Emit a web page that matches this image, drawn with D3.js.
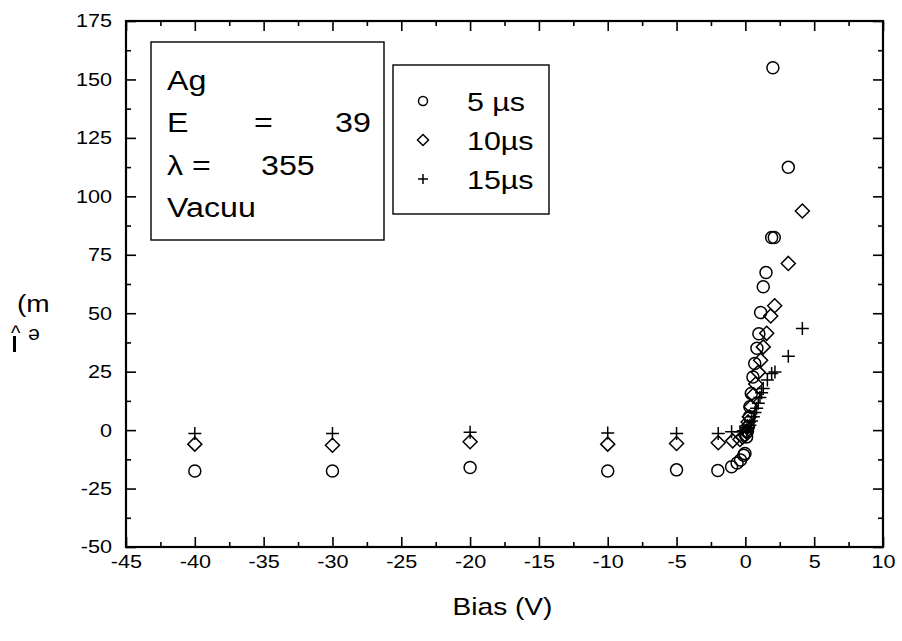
<!DOCTYPE html>
<html><head><meta charset="utf-8">
<script src="https://cdn.jsdelivr.net/npm/d3@7"></script>
<style>
body{margin:0;background:#fff}
text{font-family:"Liberation Sans",Arial,Helvetica,sans-serif;fill:#000}
</style></head>
<body><svg id="c" width="902" height="641"></svg>
<script>
// ---- data ----
const xTicks = [-45,-40,-35,-30,-25,-20,-15,-10,-5,0,5,10];
const yTicks = [-50,-25,0,25,50,75,100,125,150,175];
const seriesNames = ["5 µs","10µs","15µs"];
const s5x  = [-40,-30,-20,-10,-5,-2,-1.0,-0.6,-0.35,-0.12,-0.03,0.09,0.15,0.21,0.29,0.33,0.43,0.55,0.68,0.84,0.98,1.11,1.3,1.5,1.91,2.1,3.12,2.0];
const s5y  = [-17.5,-17.5,-16,-17.5,-17,-17.3,-15.7,-14.1,-12.8,-10.7,-10,-2.9,-0.5,1.4,5.7,10,15.7,22.7,28.5,35,41.2,50.3,61.3,67.4,82.4,82.4,112.4,155];
const s10x = [-40,-30,-20,-10,-5,-1.97,-0.92,-0.39,-0.2,0,0.07,0.14,0.2,0.29,0.41,0.58,0.75,0.94,1.11,1.3,1.55,1.84,2.13,3.12,4.14];
const s10y = [-6,-6.5,-5,-6,-5.7,-5.4,-4.6,-4,-3,-2.1,-0.5,1.4,3.5,5.7,10,15,19.7,24.7,29.9,35.6,41.4,48.8,53.2,71.3,93.7];
const s15x = [-40,-30,-20,-10,-5,-1.97,-1,-0.39,-0.15,0.09,0.2,0.33,0.45,0.58,0.7,0.82,0.94,1.06,1.18,1.3,1.6,1.91,2.15,3.12,4.14];
const s15y = [-1.4,-1.4,-0.9,-1.2,-1.4,-1.4,-0.7,-0.7,-0.3,0,1,2.1,3.9,5.7,7.5,9.3,11.5,14,16,17.8,21.4,24.2,24.9,31.6,43.5];
const infoLines = ["Ag","E","λ =","Vacuu"];

// ---- layout ----
const L=126,R=883,T=21,B=547;
const SX=1.17; // horizontal stretch of the original lettering
const svg=d3.select("#c");
const x=d3.scaleLinear().domain([-45,10]).range([L,R]);
const y=d3.scaleLinear().domain([-50,175]).range([B,T]);
const xMinor=d3.range(-42.5,10,5), yMinor=d3.range(-37.5,175,25);

function ax(gen,vals,size,labels,tr,pad){
  const g=svg.append("g").attr("transform",tr)
    .call(gen.tickValues(vals).tickSize(size).tickPadding(pad||8).tickFormat(labels?(d=>d):""));
  g.select(".domain").remove();
  g.selectAll("line").attr("stroke","#000").attr("stroke-width",1.6);
  g.selectAll("text").style("font-size","18.5px").attr("fill","#000");
  return g;
}
const gx=ax(d3.axisBottom(x),xTicks,-10,true,`translate(0,${B})`,8);
gx.selectAll("text").attr("transform",`scale(${SX},1)`);
ax(d3.axisBottom(x),xMinor,-5,false,`translate(0,${B})`);
ax(d3.axisTop(x),xTicks,-10,false,`translate(0,${T})`);
ax(d3.axisTop(x),xMinor,-5,false,`translate(0,${T})`);
const gy=ax(d3.axisLeft(y),yTicks,-10,true,`translate(${L},0)`,14);
gy.selectAll("text").attr("x",0).attr("transform",`translate(-14,0) scale(${SX},1)`);
ax(d3.axisLeft(y),yMinor,-5,false,`translate(${L},0)`);
ax(d3.axisRight(y),yTicks,-10,false,`translate(${R},0)`);
ax(d3.axisRight(y),yMinor,-5,false,`translate(${R},0)`);
svg.append("rect").attr("x",L).attr("y",T).attr("width",R-L).attr("height",B-T)
  .attr("fill","none").attr("stroke","#000").attr("stroke-width",2.2);

// ---- markers ----
const circ=(g,cx,cy,r)=>g.append("circle").attr("cx",cx).attr("cy",cy).attr("r",r).attr("fill","none").attr("stroke","#000").attr("stroke-width",1.5);
const diam=(g,cx,cy,r)=>g.append("path").attr("d",`M${cx},${cy-r}L${cx+r},${cy}L${cx},${cy+r}L${cx-r},${cy}Z`).attr("fill","none").attr("stroke","#000").attr("stroke-width",1.5);
const plus=(g,cx,cy,r)=>g.append("path").attr("d",`M${cx-r},${cy}H${cx+r}M${cx},${cy-r}V${cy+r}`).attr("fill","none").attr("stroke","#000").attr("stroke-width",1.5);
const pg=svg.append("g");
s15x.forEach((v,i)=>plus(pg,x(v),y(s15y[i]),6.5));
s10x.forEach((v,i)=>diam(pg,x(v),y(s10y[i]),7));
s5x.forEach((v,i)=>circ(pg,x(v),y(s5y[i]),6));

// stretched text helper
const st=(g,xx,yy,t,size,anchor)=>g.append("text")
  .attr("transform",`translate(${xx},${yy}) scale(${SX},1)`)
  .attr("text-anchor",anchor||"start").style("font-size",size+"px").text(t);

// ---- axis titles ----
st(svg,(L+R)/2-2,615,"Bias (V)",24,"middle");
st(svg,17,312,"(m",24);
svg.append("text").attr("x",11).attr("y",340).style("font-size","20px").text("^");
svg.append("rect").attr("x",13).attr("y",336).attr("width",3).attr("height",16).attr("fill","#000");
svg.append("text").attr("transform","translate(34,329) rotate(180)").attr("text-anchor","middle").style("font-size","21px").text("e");

// ---- info box ----
svg.append("rect").attr("x",151).attr("y",42).attr("width",233).attr("height",198).attr("fill","#fff").attr("stroke","#000").attr("stroke-width",1.4);
const info=svg.append("g");
const fs=27.5;
st(info,167,90,infoLines[0],fs);
st(info,167,132,infoLines[1],fs); st(info,254,132,"=",fs); st(info,335,132,"39",fs);
st(info,167,175,infoLines[2],fs); st(info,261,175,"355",fs);
st(info,167,217,infoLines[3],fs);

// ---- legend ----
svg.append("rect").attr("x",393).attr("y",65).attr("width",156).attr("height",149).attr("fill","#fff").attr("stroke","#000").attr("stroke-width",1.4);
const lg=svg.append("g");
const rows=[101,140,179];
circ(lg,423,rows[0],4.5); diam(lg,423,rows[1],5.5); plus(lg,423,rows[2],5);
rows.forEach((ry,i)=>st(lg,467,ry+9.5,seriesNames[i],26));
</script></body></html>
